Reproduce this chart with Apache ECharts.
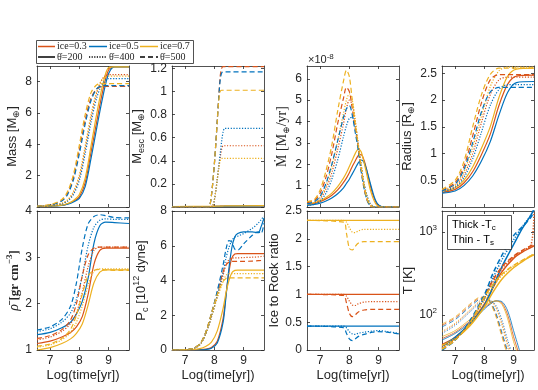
<!DOCTYPE html>
<html>
<head>
<meta charset="utf-8">
<script src="https://cdn.jsdelivr.net/npm/echarts@6/dist/echarts.min.js"></script>
<style>
  html, body { margin: 0; padding: 0; background: #fff; }
  #chart { width: 538px; height: 390px; }
</style>
</head>
<body>
<div id="chart"></div>
<script>
// colours per ice fraction (matlab default order)
var ICE_COLOR = { 3: '#D95319', 5: '#0072BD', 7: '#EDB120' };
var xTicks = [7, 8, 9];

// ---- Mass [M_earth]
var xMass = [6.55, 7.0, 7.4, 7.6, 7.8, 8.0, 8.2, 8.4, 8.6, 8.8, 9.0, 9.2, 9.7];
var mass3_200 = [0.03, 0.05, 0.11, 0.2, 0.36, 0.65, 1.55, 3.5, 5.5, 7.4, 8.75, 8.95, 8.95];
var mass5_200 = [0.03, 0.05, 0.1, 0.18, 0.32, 0.55, 1.3, 3.1, 5.1, 7.0, 8.5, 8.95, 8.95];
var mass7_200 = [0.03, 0.06, 0.12, 0.22, 0.42, 0.8, 1.85, 3.9, 6.0, 7.8, 8.9, 8.95, 8.95];
var mass3_400 = [0.04, 0.09, 0.22, 0.42, 0.9, 1.9, 3.7, 5.7, 7.3, 8.2, 8.45, 8.45, 8.45];
var mass5_400 = [0.04, 0.08, 0.2, 0.38, 0.8, 1.7, 3.4, 5.4, 7.0, 7.9, 8.2, 8.2, 8.2];
var mass7_400 = [0.04, 0.1, 0.24, 0.46, 1.0, 2.05, 3.9, 5.9, 7.4, 8.2, 8.35, 8.35, 8.35];
var mass3_500 = [0.05, 0.13, 0.42, 0.9, 1.9, 3.65, 5.55, 6.95, 7.55, 7.7, 7.7, 7.7, 7.7];
var mass5_500 = [0.05, 0.12, 0.38, 0.8, 1.75, 3.4, 5.3, 6.8, 7.55, 7.75, 7.75, 7.75, 7.75];
var mass7_500 = [0.06, 0.15, 0.48, 1.0, 2.1, 3.95, 5.9, 7.3, 7.8, 7.88, 7.88, 7.88, 7.88];

// ---- M_esc
var xEsc = [6.55, 7.8, 7.85, 7.9, 7.95, 8.0, 8.05, 8.1, 8.15, 8.2, 8.25, 8.3, 8.35, 8.4, 9.7];
var esc3_200 = [0.003, 0.004, 0.004, 0.005, 0.005, 0.005, 0.006, 0.006, 0.006, 0.007, 0.007, 0.007, 0.008, 0.008, 0.01];
var esc5_200 = [0.002, 0.003, 0.003, 0.004, 0.004, 0.004, 0.005, 0.005, 0.005, 0.006, 0.006, 0.006, 0.007, 0.007, 0.009];
var esc7_200 = [0.004, 0.005, 0.005, 0.006, 0.006, 0.006, 0.007, 0.007, 0.007, 0.008, 0.008, 0.008, 0.009, 0.009, 0.012];
var esc3_400 = [0, 0, 0, 0, 0.01, 0.06, 0.14, 0.24, 0.34, 0.43, 0.5, 0.53, 0.53, 0.53, 0.53];
var esc5_400 = [0, 0, 0, 0, 0.01, 0.06, 0.14, 0.24, 0.35, 0.46, 0.57, 0.65, 0.68, 0.68, 0.68];
var esc7_400 = [0, 0, 0, 0, 0.01, 0.06, 0.14, 0.24, 0.33, 0.4, 0.42, 0.42, 0.42, 0.42, 0.42];
var esc3_500 = [0, 0, 0.02, 0.1, 0.22, 0.37, 0.55, 0.75, 0.95, 1.13, 1.2, 1.215, 1.215, 1.215, 1.215];
var esc5_500 = [0, 0, 0.02, 0.1, 0.22, 0.37, 0.55, 0.75, 0.94, 1.1, 1.16, 1.17, 1.17, 1.17, 1.17];
var esc7_500 = [0, 0, 0.02, 0.1, 0.22, 0.37, 0.55, 0.74, 0.92, 1.0, 1.01, 1.01, 1.01, 1.01, 1.01];

// ---- Mdot [1e-8 M_earth/yr]
var xDot = [6.55, 6.8, 7.0, 7.2, 7.4, 7.6, 7.8, 7.9, 8.0, 8.1, 8.2, 8.3, 8.4, 8.5, 8.6, 8.7, 8.8, 8.9, 9.0, 9.2, 9.7];
var dot3_200 = [0.12, 0.17, 0.25, 0.38, 0.55, 0.8, 1.15, 1.35, 1.6, 1.9, 2.15, 2.4, 2.45, 2.2, 1.7, 1.1, 0.6, 0.25, 0.07, 0, 0];
var dot5_200 = [0.08, 0.12, 0.18, 0.28, 0.42, 0.62, 0.9, 1.1, 1.3, 1.55, 1.8, 2.05, 2.2, 2.1, 1.7, 1.2, 0.7, 0.3, 0.1, 0, 0];
var dot7_200 = [0.15, 0.2, 0.3, 0.45, 0.65, 0.95, 1.35, 1.6, 1.9, 2.2, 2.5, 2.7, 2.6, 2.1, 1.5, 0.9, 0.45, 0.15, 0.03, 0, 0];
var dot3_400 = [0.1, 0.18, 0.38, 0.85, 1.6, 2.7, 3.9, 4.6, 5.0, 4.8, 4.0, 3.0, 2.0, 1.1, 0.5, 0.16, 0.04, 0, 0, 0, 0];
var dot5_400 = [0.07, 0.13, 0.28, 0.65, 1.3, 2.2, 3.3, 3.8, 4.15, 4.2, 3.7, 2.9, 2.0, 1.15, 0.55, 0.2, 0.05, 0, 0, 0, 0];
var dot7_400 = [0.12, 0.22, 0.45, 1.0, 1.9, 3.1, 4.4, 5.0, 5.3, 5.0, 4.1, 3.0, 2.0, 1.1, 0.5, 0.15, 0.03, 0, 0, 0, 0];
var dot3_500 = [0.2, 0.3, 0.65, 1.4, 2.5, 3.9, 5.1, 5.6, 5.4, 4.6, 3.7, 2.8, 1.8, 0.9, 0.35, 0.08, 0, 0, 0, 0, 0];
var dot5_500 = [0.15, 0.25, 0.5, 1.1, 2.0, 3.1, 4.2, 4.6, 4.75, 4.3, 3.5, 2.7, 1.7, 0.9, 0.35, 0.08, 0, 0, 0, 0, 0];
var dot7_500 = [0.25, 0.35, 0.8, 1.7, 2.9, 4.5, 5.9, 6.4, 6.1, 5.0, 3.9, 2.9, 1.9, 1.0, 0.4, 0.1, 0, 0, 0, 0, 0];

// ---- Radius [R_earth]
var xRad = [6.55, 7.0, 7.3, 7.6, 7.9, 8.2, 8.5, 8.8, 9.1, 9.7];
var rad3_200 = [0.27, 0.33, 0.45, 0.66, 0.98, 1.36, 1.9, 2.3, 2.45, 2.47];
var rad5_200 = [0.26, 0.3, 0.4, 0.58, 0.86, 1.22, 1.72, 2.15, 2.33, 2.35];
var rad7_200 = [0.29, 0.36, 0.5, 0.75, 1.1, 1.5, 2.05, 2.45, 2.58, 2.6];
var rad3_400 = [0.29, 0.39, 0.6, 1.0, 1.58, 2.1, 2.38, 2.43, 2.43, 2.43];
var rad5_400 = [0.28, 0.37, 0.55, 0.9, 1.4, 1.9, 2.2, 2.29, 2.29, 2.29];
var rad7_400 = [0.31, 0.42, 0.66, 1.12, 1.7, 2.25, 2.55, 2.62, 2.62, 2.62];
var rad3_500 = [0.31, 0.46, 0.76, 1.33, 1.95, 2.38, 2.48, 2.48, 2.48, 2.48];
var rad5_500 = [0.3, 0.43, 0.7, 1.2, 1.78, 2.15, 2.24, 2.24, 2.24, 2.24];
var rad7_500 = [0.33, 0.5, 0.85, 1.5, 2.1, 2.48, 2.6, 2.6, 2.6, 2.6];

// ---- mean density [gr cm^-3]
var xRho = [6.55, 7.0, 7.4, 7.7, 7.9, 8.1, 8.3, 8.5, 8.7, 8.9, 9.2, 9.7];
var rho3_200 = [1.14, 1.19, 1.28, 1.38, 1.5, 1.72, 2.2, 2.85, 3.15, 3.2, 3.2, 3.2];
var rho5_200 = [1.33, 1.38, 1.48, 1.6, 1.78, 2.05, 2.55, 3.3, 3.68, 3.76, 3.75, 3.73];
var rho7_200 = [1.0, 1.05, 1.14, 1.24, 1.36, 1.56, 1.97, 2.45, 2.68, 2.73, 2.73, 2.73];
var rho3_400 = [1.22, 1.28, 1.4, 1.57, 1.8, 2.25, 2.8, 3.15, 3.22, 3.22, 3.22, 3.22];
var rho5_400 = [1.4, 1.46, 1.6, 1.8, 2.1, 2.6, 3.25, 3.65, 3.8, 3.83, 3.82, 3.82];
var rho7_400 = [1.06, 1.11, 1.22, 1.38, 1.6, 1.95, 2.4, 2.7, 2.75, 2.75, 2.75, 2.75];
var rho3_500 = [1.25, 1.31, 1.44, 1.65, 2.0, 2.6, 3.05, 3.2, 3.22, 3.22, 3.22, 3.22];
var rho5_500 = [1.43, 1.5, 1.66, 1.95, 2.45, 3.2, 3.72, 3.88, 3.92, 3.9, 3.86, 3.85];
var rho7_500 = [1.08, 1.13, 1.25, 1.45, 1.75, 2.2, 2.6, 2.72, 2.74, 2.73, 2.72, 2.72];

// ---- central pressure [1e12 dyne]
var xPc = [6.55, 7.2, 7.5, 7.7, 7.9, 8.1, 8.3, 8.4, 8.5, 8.6, 8.7, 8.8, 9.0, 9.3, 9.5, 9.6, 9.7];
var pc3_200 = [0, 0, 0.02, 0.05, 0.15, 0.5, 1.8, 3.2, 4.5, 5.3, 5.52, 5.55, 5.55, 5.55, 5.55, 5.55, 5.55];
var pc5_200 = [0, 0, 0.01, 0.03, 0.1, 0.4, 1.6, 3.1, 4.7, 5.9, 6.5, 6.7, 6.8, 6.8, 6.75, 7.1, 7.6];
var pc7_200 = [0, 0.02, 0.08, 0.2, 0.45, 1.1, 2.4, 3.3, 4.0, 4.45, 4.58, 4.6, 4.6, 4.6, 4.6, 4.6, 4.6];
var pc3_400 = [0, 0.05, 0.3, 0.9, 1.9, 3.1, 4.3, 4.9, 5.2, 5.28, 5.3, 5.3, 5.32, 5.34, 5.36, 5.38, 5.4];
var pc5_400 = [0, 0.05, 0.3, 0.9, 1.9, 3.1, 4.5, 5.3, 5.9, 6.3, 6.5, 6.55, 6.7, 7.0, 7.3, 7.5, 7.7];
var pc7_400 = [0, 0.05, 0.3, 0.9, 1.9, 3.0, 3.95, 4.3, 4.4, 4.4, 4.4, 4.4, 4.4, 4.4, 4.4, 4.4, 4.4];
var pc3_500 = [0, 0.06, 0.35, 1.0, 2.1, 3.3, 4.5, 4.9, 5.05, 5.1, 5.1, 5.1, 5.1, 5.12, 5.14, 5.15, 5.15];
var pc5_500 = [0, 0.06, 0.35, 1.0, 2.1, 3.4, 4.9, 5.8, 6.3, 6.2, 5.8, 5.75, 6.1, 6.6, 6.8, 6.7, 7.3];
var pc7_500 = [0, 0.06, 0.35, 1.0, 2.1, 3.2, 3.95, 4.12, 4.15, 4.15, 4.15, 4.15, 4.15, 4.15, 4.15, 4.15, 4.15];

// ---- ice to rock ratio
var xIce = [6.55, 7.8, 7.9, 8.0, 8.1, 8.2, 8.3, 8.5, 8.8, 9.0, 9.3, 9.7];
var ice3_200 = [1.0, 1.0, 1.0, 1.0, 1.0, 1.0, 1.0, 1.0, 1.0, 1.0, 1.0, 1.0];
var ice5_200 = [0.43, 0.43, 0.43, 0.43, 0.43, 0.43, 0.43, 0.43, 0.43, 0.43, 0.43, 0.43];
var ice7_200 = [2.33, 2.33, 2.33, 2.33, 2.33, 2.33, 2.33, 2.33, 2.33, 2.33, 2.33, 2.33];
var ice3_400 = [1.0, 1.0, 0.97, 0.88, 0.81, 0.8, 0.83, 0.86, 0.87, 0.87, 0.87, 0.87];
var ice5_400 = [0.43, 0.43, 0.4, 0.33, 0.29, 0.28, 0.3, 0.32, 0.34, 0.35, 0.33, 0.3];
var ice7_400 = [2.33, 2.33, 2.3, 2.2, 2.12, 2.11, 2.14, 2.17, 2.17, 2.17, 2.17, 2.17];
var ice3_500 = [1.0, 0.98, 0.85, 0.66, 0.6, 0.63, 0.68, 0.72, 0.73, 0.73, 0.73, 0.73];
var ice5_500 = [0.43, 0.4, 0.3, 0.2, 0.17, 0.2, 0.24, 0.28, 0.32, 0.33, 0.32, 0.29];
var ice7_500 = [2.33, 2.3, 2.1, 1.83, 1.8, 1.86, 1.92, 1.95, 1.95, 1.95, 1.95, 1.95];

// ---- temperature [K]: thick = central, thin = surface
var xTc = [6.55, 7.0, 7.5, 8.0, 8.3, 8.6, 9.0, 9.3, 9.6, 9.7];
var tc3_200 = [44, 54, 78, 135, 215, 330, 480, 570, 650, 680];
var tc5_200 = [42, 54, 78, 130, 220, 380, 700, 1100, 1600, 1900];
var tc7_200 = [43, 52, 74, 125, 190, 270, 370, 440, 510, 530];
var tc3_400 = [41, 52, 80, 160, 250, 360, 500, 590, 700, 1800];
var tc5_400 = [40, 53, 82, 160, 280, 460, 800, 1150, 1600, 1850];
var tc7_400 = [40, 51, 78, 150, 220, 300, 390, 450, 520, 540];
var tc3_500 = [39, 50, 82, 170, 265, 380, 510, 600, 680, 700];
var tc5_500 = [38, 50, 85, 175, 320, 520, 900, 1150, 1500, 1800];
var tc7_500 = [39, 50, 80, 165, 235, 310, 395, 455, 515, 535];
var xTs = [6.55, 7.0, 7.5, 7.8, 8.0, 8.2, 8.4, 8.6, 8.8, 9.0, 9.2];
var ts3_200 = [52, 62, 84, 105, 122, 138, 148, 140, 100, 55, 33];
var ts5_200 = [50, 60, 80, 100, 118, 135, 148, 145, 112, 65, 38];
var ts7_200 = [55, 65, 88, 110, 128, 142, 148, 135, 90, 48, 30];
var ts3_400 = [62, 78, 112, 140, 155, 150, 125, 80, 45, 30, 25];
var ts5_400 = [60, 75, 108, 135, 150, 150, 130, 88, 50, 32, 25];
var ts7_400 = [64, 80, 115, 145, 158, 150, 120, 75, 42, 28, 25];
var ts3_500 = [75, 92, 130, 158, 163, 142, 100, 58, 35, 25, 25];
var ts5_500 = [72, 88, 125, 152, 160, 145, 105, 62, 37, 25, 25];
var ts7_500 = [78, 95, 135, 162, 165, 140, 95, 55, 33, 25, 25];

var SANS = 'Liberation Sans, Arial, Helvetica, sans-serif';
var SERIF = 'Liberation Serif, DejaVu Serif, Times New Roman, serif';
var INK = '#262626';
var DASH = { 200: 'solid', 400: [1.2, 1.6], 500: [5, 3] };

var lefts = [37, 172, 307, 442];
var grids = [];
for (var r = 0; r < 2; r++) {
  for (var c = 0; c < 4; c++) {
    grids.push({ left: lefts[c], top: r === 0 ? 66 : 211, width: 92, height: r === 0 ? 141 : 139 });
  }
}

var nameRich = {
  a: { fontFamily: SANS, fontSize: 13, color: INK, lineHeight: 18, verticalAlign: 'middle' },
  s: { fontFamily: SANS, fontSize: 9, color: INK, lineHeight: 9, verticalAlign: 'bottom' },
  p: { fontFamily: SANS, fontSize: 9, color: INK, lineHeight: 9, verticalAlign: 'top' },
  f: { fontFamily: SERIF, fontSize: 14, color: INK, lineHeight: 18, verticalAlign: 'middle' },
  fb: { fontFamily: SERIF, fontSize: 13, fontWeight: 'bold', color: INK, lineHeight: 18, verticalAlign: 'middle' },
  fi: { fontFamily: SERIF, fontSize: 14, fontStyle: 'italic', color: INK, lineHeight: 18, verticalAlign: 'middle' },
  fs: { fontFamily: SERIF, fontSize: 9, color: INK, lineHeight: 9, verticalAlign: 'bottom' },
  fp: { fontFamily: SERIF, fontSize: 9, fontWeight: 'bold', color: INK, lineHeight: 9, verticalAlign: 'top' }
};

// y axis set up per panel
var yDefs = [
  { min: 0, max: 9, ticks: [0, 2, 4, 6, 8], labels: [2, 4, 6, 8], name: '{a|Mass [M}{s|⊕}{a|]}', gap: 16 },
  { min: 0, max: 1.22, ticks: [0, 0.2, 0.4, 0.6, 0.8, 1, 1.2], labels: [0.2, 0.4, 0.6, 0.8, 1, 1.2], name: '{a|M}{s|esc}{a| [M}{s|⊕}{a|]}', gap: 24 },
  { min: 0, max: 6.6, ticks: [0, 1, 2, 3, 4, 5, 6], labels: [1, 2, 3, 4, 5, 6], name: '{f|Ṁ [M}{fs|⊕}{f|/yr]}', gap: 15 },
  { min: 0, max: 2.64, ticks: [0.5, 1, 1.5, 2, 2.5], labels: [0.5, 1, 1.5, 2, 2.5], name: '{a|Radius [R}{s|⊕}{a|]}', gap: 22 },
  { min: 1, max: 4, ticks: [1, 2, 3, 4], labels: [1, 2, 3, 4], name: '{fi|ρ̄ }{fb|[gr cm}{fp|−3}{fb|]}', gap: 11 },
  { min: 0, max: 8, ticks: [0, 2, 4, 6, 8], labels: [0, 2, 4, 6, 8], name: '{a|P}{s|c}{a| [10}{p|12}{a| dyne]}', gap: 22 },
  { min: 0, max: 2.5, ticks: [0, 0.5, 1, 1.5, 2, 2.5], labels: [0, 0.5, 1, 1.5, 2, 2.5], name: '{a|Ice to Rock ratio}', gap: 20 },
  { log: true, min: 38, max: 1780, ticks: [100, 1000], labels: [100, 1000], name: '{a|T [K]}', gap: 20 }
];

var xAxes = [], yAxes = [];
grids.forEach(function (g, i) {
  var bottomRow = i >= 4;
  var lineSt = { show: true, onZero: false, lineStyle: { color: INK, width: 0.8 } };
  var tickSt = { show: true, inside: true, length: 3, customValues: xTicks, lineStyle: { color: INK, width: 0.8 } };
  xAxes.push({
    type: 'value', gridIndex: i, min: 6.55, max: 9.7, position: 'bottom',
    axisLine: lineSt, axisTick: tickSt, splitLine: { show: false },
    axisLabel: { show: bottomRow, customValues: xTicks, color: INK, fontFamily: SANS, fontSize: 12, margin: 5 },
    name: bottomRow ? 'Log(time[yr])' : '', nameLocation: 'middle', nameGap: 19,
    nameTextStyle: { color: INK, fontFamily: SANS, fontSize: 13 }
  });
  xAxes.push({
    type: 'value', gridIndex: i, min: 6.55, max: 9.7, position: 'top',
    axisLine: lineSt, axisTick: tickSt, axisLabel: { show: false }, splitLine: { show: false }
  });
  var d = yDefs[i];
  var yTick = { show: true, inside: true, length: 3, customValues: d.ticks, lineStyle: { color: INK, width: 0.8 } };
  var base = {
    type: d.log ? 'log' : 'value', logBase: 10, gridIndex: i, min: d.min, max: d.max,
    axisLine: lineSt, axisTick: yTick, splitLine: { show: false }
  };
  yAxes.push(Object.assign({}, base, {
    position: 'left',
    axisLabel: {
      customValues: d.labels, color: INK, fontFamily: SANS, fontSize: 12, margin: 5,
      formatter: d.log ? function (v) { return '{b|10}{e|' + Math.round(Math.log10(v)) + '}'; } : null,
      rich: { b: { fontFamily: SANS, fontSize: 12, color: INK, lineHeight: 16, verticalAlign: 'middle' },
              e: { fontFamily: SANS, fontSize: 8, color: INK, lineHeight: 8, verticalAlign: 'top' } }
    },
    name: d.name, nameLocation: 'middle', nameRotate: 90, nameGap: d.gap,
    nameTextStyle: { rich: nameRich }
  }));
  yAxes.push(Object.assign({}, base, { position: 'right', axisLabel: { show: false } }));
});

function pairs(xs, ys) {
  return xs.map(function (x, k) { return [x, ys[k]]; });
}
var series = [];
function add(g, xs, ys, ice, th, w) {
  series.push({
    type: 'line', name: 'ice=0.' + ice + ' ' + th, xAxisIndex: 2 * g, yAxisIndex: 2 * g,
    data: pairs(xs, ys), symbol: 'none', smooth: 0.3, clip: true, silent: true,
    lineStyle: { color: ICE_COLOR[ice], width: w || 1.2, type: DASH[th] }
  });
}
function panel(g, xs, set, w) {
  [200, 400, 500].forEach(function (th) {
    [3, 5, 7].forEach(function (ice) { add(g, xs, set[ice + '_' + th], ice, th, w); });
  });
}
panel(0, xMass, { '3_200': mass3_200, '5_200': mass5_200, '7_200': mass7_200, '3_400': mass3_400, '5_400': mass5_400, '7_400': mass7_400, '3_500': mass3_500, '5_500': mass5_500, '7_500': mass7_500 });
panel(1, xEsc, { '3_200': esc3_200, '5_200': esc5_200, '7_200': esc7_200, '3_400': esc3_400, '5_400': esc5_400, '7_400': esc7_400, '3_500': esc3_500, '5_500': esc5_500, '7_500': esc7_500 });
panel(2, xDot, { '3_200': dot3_200, '5_200': dot5_200, '7_200': dot7_200, '3_400': dot3_400, '5_400': dot5_400, '7_400': dot7_400, '3_500': dot3_500, '5_500': dot5_500, '7_500': dot7_500 });
panel(3, xRad, { '3_200': rad3_200, '5_200': rad5_200, '7_200': rad7_200, '3_400': rad3_400, '5_400': rad5_400, '7_400': rad7_400, '3_500': rad3_500, '5_500': rad5_500, '7_500': rad7_500 });
panel(4, xRho, { '3_200': rho3_200, '5_200': rho5_200, '7_200': rho7_200, '3_400': rho3_400, '5_400': rho5_400, '7_400': rho7_400, '3_500': rho3_500, '5_500': rho5_500, '7_500': rho7_500 });
panel(5, xPc, { '3_200': pc3_200, '5_200': pc5_200, '7_200': pc7_200, '3_400': pc3_400, '5_400': pc5_400, '7_400': pc7_400, '3_500': pc3_500, '5_500': pc5_500, '7_500': pc7_500 });
panel(6, xIce, { '3_200': ice3_200, '5_200': ice5_200, '7_200': ice7_200, '3_400': ice3_400, '5_400': ice5_400, '7_400': ice7_400, '3_500': ice3_500, '5_500': ice5_500, '7_500': ice7_500 });
panel(7, xTs, { '3_200': ts3_200, '5_200': ts5_200, '7_200': ts7_200, '3_400': ts3_400, '5_400': ts5_400, '7_400': ts7_400, '3_500': ts3_500, '5_500': ts5_500, '7_500': ts7_500 }, 0.8);
panel(7, xTc, { '3_200': tc3_200, '5_200': tc5_200, '7_200': tc7_200, '3_400': tc3_400, '5_400': tc5_400, '7_400': tc7_400, '3_500': tc3_500, '5_500': tc5_500, '7_500': tc7_500 }, 1.5);

// legend box drawn by hand (two rows: colour = ice, style = theta dot)
function legLine(x1, x2, y, color, dash) {
  return { type: 'line', shape: { x1: x1, y1: y, x2: x2, y2: y }, style: { stroke: color, lineWidth: 1.5, lineDash: dash } };
}
function legText(x, y, t) {
  return { type: 'text', x: x, y: y, style: { text: t, fill: INK, font: '10px ' + SERIF, textVerticalAlign: 'middle' } };
}
var graphic = [
  { type: 'rect', shape: { x: 36.5, y: 40.5, width: 157, height: 23 }, style: { fill: '#fff', stroke: INK, lineWidth: 0.8 } },
  legLine(38, 55, 46.5, ICE_COLOR[3], null), legText(57, 46.5, 'ice=0.3'),
  legLine(89, 107, 46.5, ICE_COLOR[5], null), legText(109, 46.5, 'ice=0.5'),
  legLine(140, 158, 46.5, ICE_COLOR[7], null), legText(160, 46.5, 'ice=0.7'),
  legLine(38, 55, 57, '#000', null), legText(57, 57, 'θ̇=200'),
  legLine(89, 107, 57, '#000', [1.2, 1.4]), legText(109, 57, 'θ̇=400'),
  legLine(140, 158, 57, '#000', [5, 3]), legText(160, 57, 'θ̇=500'),
  { type: 'text', x: 308, y: 60, style: { text: '{a|×10}{e|-8}', fill: INK, textVerticalAlign: 'middle',
    rich: { a: { fontFamily: SANS, fontSize: 11, color: INK, lineHeight: 14, verticalAlign: 'middle' },
            e: { fontFamily: SANS, fontSize: 8, color: INK, lineHeight: 7, verticalAlign: 'top' } } } },
  { type: 'rect', shape: { x: 447.5, y: 215.5, width: 64, height: 34 }, z: 10, style: { fill: '#fff', stroke: INK, lineWidth: 0.8 } },
  { type: 'text', x: 452, y: 225, z: 11, style: { text: '{a|Thick -T}{s|c}', textVerticalAlign: 'middle', rich: {
    a: { fontFamily: SANS, fontSize: 11, color: INK, lineHeight: 14, verticalAlign: 'middle' },
    s: { fontFamily: SANS, fontSize: 8, color: INK, lineHeight: 7, verticalAlign: 'bottom' } } } },
  { type: 'text', x: 452, y: 240, z: 11, style: { text: '{a|Thin - T}{s|s}', textVerticalAlign: 'middle', rich: {
    a: { fontFamily: SANS, fontSize: 11, color: INK, lineHeight: 14, verticalAlign: 'middle' },
    s: { fontFamily: SANS, fontSize: 8, color: INK, lineHeight: 7, verticalAlign: 'bottom' } } } }
];

var chart = echarts.init(document.getElementById('chart'), null, { renderer: 'canvas' });
chart.setOption({
  animation: false,
  backgroundColor: '#fff',
  grid: grids,
  xAxis: xAxes,
  yAxis: yAxes,
  series: series,
  graphic: graphic
});
</script>
</body>
</html>
